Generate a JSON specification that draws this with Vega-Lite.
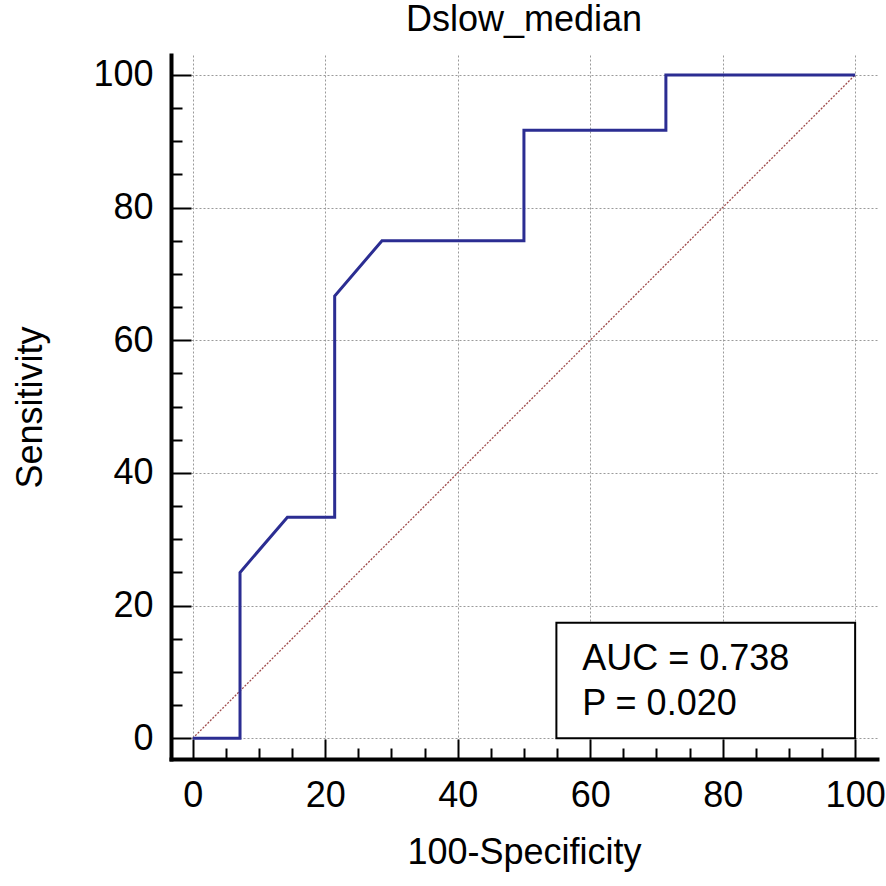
{
  "$schema": "https://vega.github.io/schema/vega-lite/v6.json",
  "width": 706,
  "height": 704,
  "autosize": {"type": "none"},
  "padding": {"left": 171, "top": 55, "right": 9, "bottom": 127},
  "background": "white",
  "title": {
    "text": "Dslow_median",
    "font": "Liberation Sans",
    "fontSize": 36,
    "fontWeight": "normal",
    "color": "black",
    "anchor": "middle",
    "baseline": "alphabetic",
    "offset": 25,
    "dy": 37
  },
  "config": {"view": {"stroke": null}},
  "datasets": {
    "roc": [
      {"i": 0, "x": 0, "y": 0},
      {"i": 1, "x": 7.14, "y": 0},
      {"i": 2, "x": 7.14, "y": 25},
      {"i": 3, "x": 14.29, "y": 33.33},
      {"i": 4, "x": 21.43, "y": 33.33},
      {"i": 5, "x": 21.43, "y": 66.67},
      {"i": 6, "x": 28.57, "y": 75},
      {"i": 7, "x": 50, "y": 75},
      {"i": 8, "x": 50, "y": 91.67},
      {"i": 9, "x": 71.43, "y": 91.67},
      {"i": 10, "x": 71.43, "y": 100},
      {"i": 11, "x": 100, "y": 100}
    ],
    "diag": [
      {"x": 0, "y": 0},
      {"x": 100, "y": 100}
    ],
    "box": [
      {"x": 54.9, "x2": 100, "y": 0, "y2": 17.4}
    ],
    "stats": [
      {"x": 58.8, "y": 10.3, "label": "AUC = 0.738"},
      {"x": 58.8, "y": 3.5, "label": "P = 0.020"}
    ]
  },
  "layer": [
    {
      "data": {"name": "box"},
      "mark": {"type": "rect", "fill": "white", "stroke": "black", "strokeWidth": 2},
      "encoding": {
        "x": {
          "field": "x", "type": "quantitative",
          "scale": {"domain": [-3.28, 103.3], "nice": false, "zero": false},
          "axis": {
            "orient": "bottom",
            "values": [0, 20, 40, 60, 80, 100],
            "ticks": false,
            "labelFont": "Liberation Sans",
            "labelFontSize": 36,
            "labelColor": "black",
            "labelPadding": 19,
            "labelFlush": false,
            "labelOverlap": false,
            "grid": true,
            "gridColor": "#9a9a9a",
            "gridDash": [2, 2],
            "gridWidth": 1,
            "domain": true,
            "domainColor": "black",
            "domainWidth": 4,
            "domainCap": "square",
            "title": "100-Specificity",
            "titleFont": "Liberation Sans",
            "titleFontSize": 36,
            "titleFontWeight": "normal",
            "titleColor": "black",
            "titleBaseline": "alphabetic",
            "titleY": 104
          }
        },
        "x2": {"field": "x2"},
        "y": {
          "field": "y", "type": "quantitative",
          "scale": {"domain": [-3.12, 103.0], "nice": false, "zero": false},
          "axis": {
            "orient": "left",
            "values": [0, 20, 40, 60, 80, 100],
            "ticks": false,
            "labelFont": "Liberation Sans",
            "labelFontSize": 36,
            "labelColor": "black",
            "labelPadding": 18,
            "labelBaseline": "middle",
            "labelFlush": false,
            "labelOverlap": false,
            "grid": true,
            "gridColor": "#9a9a9a",
            "gridDash": [2, 2],
            "gridWidth": 1,
            "domain": true,
            "domainColor": "black",
            "domainWidth": 4,
            "domainCap": "square",
            "title": "Sensitivity",
            "titleFont": "Liberation Sans",
            "titleFontSize": 36,
            "titleFontWeight": "normal",
            "titleColor": "black",
            "titleBaseline": "alphabetic",
            "titleX": -130
          }
        },
        "y2": {"field": "y2"}
      }
    },
    {
      "data": {"name": "diag"},
      "mark": {"type": "line", "color": "#a04c4c", "strokeWidth": 1.3, "strokeDash": [2, 1.5]},
      "encoding": {
        "x": {
          "field": "x", "type": "quantitative",
          "scale": {"domain": [-3.28, 103.3], "nice": false, "zero": false},
          "axis": {
            "orient": "bottom",
            "values": [0, 20, 40, 60, 80, 100],
            "labels": false, "domain": false, "grid": false,
            "ticks": true, "tickSize": -20, "tickWidth": 2, "tickColor": "black",
            "title": null
          }
        },
        "y": {
          "field": "y", "type": "quantitative",
          "scale": {"domain": [-3.12, 103.0], "nice": false, "zero": false},
          "axis": {
            "orient": "left",
            "values": [0, 20, 40, 60, 80, 100],
            "labels": false, "domain": false, "grid": false,
            "ticks": true, "tickSize": -20, "tickWidth": 2, "tickColor": "black",
            "title": null
          }
        }
      }
    },
    {
      "data": {"name": "roc"},
      "mark": {"type": "line", "color": "#2b2d92", "strokeWidth": 3},
      "encoding": {
        "x": {
          "field": "x", "type": "quantitative",
          "scale": {"domain": [-3.28, 103.3], "nice": false, "zero": false},
          "axis": {
            "orient": "bottom",
            "values": [5, 10, 15, 25, 30, 35, 45, 50, 55, 65, 70, 75, 85, 90, 95],
            "labels": false, "domain": false, "grid": false,
            "ticks": true, "tickSize": -11, "tickWidth": 2, "tickColor": "black",
            "title": null
          }
        },
        "y": {
          "field": "y", "type": "quantitative",
          "scale": {"domain": [-3.12, 103.0], "nice": false, "zero": false},
          "axis": {
            "orient": "left",
            "values": [5, 10, 15, 25, 30, 35, 45, 50, 55, 65, 70, 75, 85, 90, 95],
            "labels": false, "domain": false, "grid": false,
            "ticks": true, "tickSize": -11, "tickWidth": 2, "tickColor": "black",
            "title": null
          }
        },
        "order": {"field": "i", "type": "quantitative"}
      }
    },
    {
      "data": {"name": "stats"},
      "mark": {
        "type": "text",
        "align": "left",
        "baseline": "alphabetic",
        "font": "Liberation Sans",
        "fontSize": 36,
        "color": "black"
      },
      "encoding": {
        "x": {"field": "x", "type": "quantitative", "axis": null},
        "y": {"field": "y", "type": "quantitative", "axis": null},
        "text": {"field": "label"}
      }
    }
  ],
  "resolve": {"axis": {"x": "independent", "y": "independent"}}
}
